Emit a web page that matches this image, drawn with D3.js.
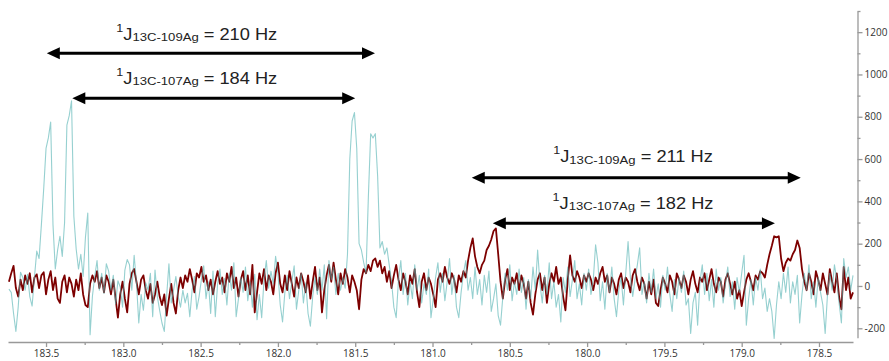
<!DOCTYPE html>
<html>
<head>
    <meta charset="utf-8">
    <style>
        body {
            margin: 0;
            background: #fff;
        }
        .axis text {
            font-family: "Open Sans", sans-serif;
            font-size: 10px;
            fill: #333;
        }
        .axis path, .axis line {
            stroke: #999;
            stroke-width: 1.3;
        }
        .jlabel {
            font-family: "Liberation Sans", Arial, sans-serif;
            fill: #222;
        }
    </style>
</head>
<body>
    <svg width="889" height="361"></svg>

    <script src="https://d3js.org/d3.v7.min.js"></script>
    <script>
        // spectrum grid: first point (ppm) and spacing
        const ppmStart = 183.74, ppmStep = 0.015;

        // light cyan spectrum
        const cyanTrace = [
            -15, -30, -130, -215, -100, 65, 40, -20, 55, -50,
            -95, 40, 165, 130, 290, 460, 650, 700, 775, 290,
            80, 170, 235, 140, 300, 760, 805, 875, 330, 175,
            80, 150, 45, 230, 345, -230, -50, 45, 120, -20,
            60, -35, 105, 70, -20, 50, -85, 25, -5, -100,
            75, 125, 100, -20, 145, 15, -175, -40, -115, 15,
            -20, 60, -145, 75, -50, -115, -175, -215, -50, 105,
            -80, -20, 45, -50, -100, -20, -80, -35, -145, -20,
            45, -110, -50, 30, 95, -60, 20, -130, 70, -145,
            10, 80, -40, 35, -90, 60, -20, 110, -145, -60,
            40, -30, 90, -70, 20, -100, 55, -160, -40, -150,
            30, 120, -10, 70, 10, 140, 60, -90, -170, -30,
            50, -60, 20, 95, -110, -20, 60, -80, 15, -130,
            -190, -50, 40, -40, 80, -20, 100, -155, 120, 30,
            90, -40, 60, -20, 40, -10, 150, 600, 780, 820,
            650, 200, 170, 110, 60, 420, 720, 700, 720, 520,
            180, 210, 150, 180, 100, 20, -100, -150, 30, 120,
            -40, 60, -90, 20, -60, 100, -20, 50, -80, 10,
            -40, 80, -150, -60, 40, 110, -30, 60, -70, 20,
            130, -40, 50, -100, -150, -30, 60, 120, -20, 40,
            -60, 90, -40, 30, -90, 50, -30, 70, -120, -60,
            10, -140, -185, -50, 60, -20, 100, -70, 20, -40,
            80, -30, 40, -110, 30, -60, 90, -20, 170, 10,
            -80, 50, -40, 110, -60, 20, -100, -40, -170, 40,
            -30, 90, -50, 30, 120, -60, 10, -90, 60, -20,
            80, -40, 30, 195, 110, -70, 20, -110, 60, -30,
            90, -60, -145, -20, 40, -90, 60, 210, 40, -50,
            30, 100, 180, -40, 20, -80, 60, -30, 80, -60,
            10, -100, 50, -20, 90, -40, -120, 30, -60, 40,
            -30, 70, -90, -60, -225, -80, -30, -185, 20, 100,
            -40, 60, -70, 30, -100, 80, -20, 40, -80, 10,
            90, -50, 20, -110, 40, -30, 60, 145, -185, -60,
            30, -90, 40, -20, 80, -60, -10, -120, -60, -120,
            -248, -90, 20, -60, 60, -30, 90, -80, 20, -40,
            50, -175, -40, 60, -20, 100, -60, 20, -100, 40,
            -30, -90, -225, -40, 60, -20, 100, 30, -80, -175,
            130, 40, 90, -20, 50
        ];

        // dark red spectrum
        const redTrace = [
            20, 60, 95, -10, -50, 30, -20, 50, 10, 60,
            -30, 40, 55, -10, 50, 65, -40, 30, 70, -20,
            40, -60, -80, 20, 50, -30, 40, 10, -50, 30,
            -20, 60, -40, -90, -100, 10, 50, 20, 70, -10,
            40, -30, 50, 20, -40, 30, -60, -150, -40, 20,
            -60, -125, 10, 60, 80, 20, -40, 30, 50, -20,
            -60, 10, -80, -40, 20, -50, -90, -40, -140, -60,
            10, -80, -130, -20, 40, -10, 50, 20, 80, 30,
            -30, 60, 40, 90, 20, 50, -20, 30, -40, 20,
            70, 10, 40, -30, 60, 20, 90, -10, 40, -50,
            30, 70, -20, 50, -40, 100, -125, -30, 60, 10,
            80, -20, 50, 20, -40, 60, 110, 10, -30, 50,
            -20, 70, 10, -50, 40, -10, 60, 20, -30, 50,
            -60, 20, 90, -20, 40, -125, -20, 50, 100, 20,
            110, 30, -40, 60, 10, 80, 40, -30, 50, 20,
            -20, -110, 30, 80, 60, 100, 70, 120, 130, 90,
            120, 60, 90, 20, 70, -10, 50, 100, 30, -20,
            60, 20, -40, 50, 10, 80, -30, -100, 20, 60,
            -20, 40, 10, -40, -100, 30, 60, 20, 90, 40,
            10, 60, 30, -30, 50, 20, 70, 40, 120, 180,
            225, 140, 90, 60, 100, 120, 170, 190, 220, 260,
            272, 150, 20, -60, 30, 80, -20, 40, 10, 60,
            -20, 50, 10, -60, 20, -80, -135, -40, 30, 60,
            -20, 40, -80, 10, 60, 20, 90, 10, 40, -50,
            -115, 30, 145, 50, 20, 70, 40, -10, 50, 20,
            60, 30, -20, 40, 10, 60, 90, 20, 50, -30,
            40, 10, -40, 30, 60, -10, 40, 20, -30, 50,
            80, 20, -20, 40, 10, -60, 20, -40, 30, -80,
            -95, -20, 40, 10, -30, 50, 20, -40, 60, 30,
            -10, 50, 20, -40, 30, 70, 10, -30, 40, 20,
            60, -20, 30, 80, 10, -30, 40, 20, -50, 30,
            60, 10, -40, 20, -60, -20, -95, -30, 30, 60,
            20, -20, 50, 30, 70, 60, 40, 100, 150, 190,
            235, 230, 235, 130, 70, 110, 130, 120, 150, 170,
            215, 180, 80, 20, -20, 60, 20, -40, 70, 30,
            -20, 60, 10, -40, 80, 20, -30, 60, -50, -110,
            90, -20, 40, -60, -30
        ];

        const xTicks = [183.5, 183.0, 182.5, 182.0, 181.5, 181.0, 180.5, 180.0, 179.5, 179.0, 178.5];
        const xMinor = [183.25, 182.75, 182.25, 181.75, 181.25, 180.75, 180.25, 179.75, 179.25, 178.75];
        const yTicks = [-200, 0, 200, 400, 600, 800, 1000, 1200];
        const yMinor = [-100, 100, 300, 500, 700, 900, 1100, 1300];

        // coupling annotations
        const jIsotopes = ["13C-109Ag", "13C-107Ag", "13C-109Ag", "13C-107Ag"];
        const jHz = [210, 184, 211, 182];
        const arrowFrom = [183.495, 183.33, 180.746, 180.61];
        const arrowTo = [181.372, 181.5, 178.618, 178.785];
        const arrowLevel = [1100, 887, 512, 296];
        const labelAt = [182.525, 182.525, 179.703, 179.703];
        const labelLevel = [1163, 955, 585, 364];

        const svg = d3.select("svg");

        const x = d3.scaleLinear().domain([183.746, 178.28]).range([8, 853]);
        const y = d3.scaleLinear().domain([-245, 1300]).range([337.8, 11]);

        // axes
        svg.append("g")
            .attr("class", "axis")
            .attr("transform", "translate(0,342)")
            .call(d3.axisBottom(x).tickValues(xTicks).tickFormat(d => d.toFixed(1))
                .tickSize(5).tickSizeOuter(0).tickPadding(3));
        svg.append("g")
            .attr("class", "axis")
            .attr("transform", "translate(0,342)")
            .call(d3.axisBottom(x).tickValues(xMinor).tickFormat("").tickSize(3).tickSizeOuter(0))
            .select(".domain").remove();

        svg.append("g")
            .attr("class", "axis")
            .attr("transform", "translate(857.5,0)")
            .call(d3.axisRight(y).tickValues(yTicks).tickFormat(d => String(d))
                .tickSize(5).tickSizeOuter(0).tickPadding(2));
        svg.append("g")
            .attr("class", "axis")
            .attr("transform", "translate(857.5,0)")
            .call(d3.axisRight(y).tickValues(yMinor).tickFormat("").tickSize(3).tickSizeOuter(0))
            .select(".domain").remove();

        // spectra
        const line = d3.line()
            .x((d, i) => x(ppmStart - i * ppmStep))
            .y(d => y(d));

        svg.append("path")
            .datum(redTrace)
            .attr("fill", "none")
            .attr("stroke", "#7d0000")
            .attr("stroke-width", 1.8)
            .attr("stroke-linejoin", "round")
            .attr("d", line);

        svg.append("path")
            .datum(cyanTrace)
            .attr("fill", "none")
            .attr("stroke", "#50b1b1")
            .attr("stroke-opacity", 0.6)
            .attr("stroke-width", 1.1)
            .attr("stroke-linejoin", "round")
            .attr("d", line);

        // double-headed arrows
        const head = 13, half = 6;
        const arrows = svg.append("g");
        arrowFrom.forEach((a, i) => {
            const x1 = x(a), x2 = x(arrowTo[i]), yy = y(arrowLevel[i]);
            arrows.append("line")
                .attr("x1", x1 + head - 1).attr("x2", x2 - head + 1)
                .attr("y1", yy).attr("y2", yy)
                .attr("stroke", "#000")
                .attr("stroke-width", 3);
            arrows.append("path")
                .attr("d", `M${x1},${yy}L${x1 + head},${yy - half}L${x1 + head},${yy + half}Z`)
                .attr("fill", "#000");
            arrows.append("path")
                .attr("d", `M${x2},${yy}L${x2 - head},${yy - half}L${x2 - head},${yy + half}Z`)
                .attr("fill", "#000");
        });

        // J labels
        jIsotopes.forEach((iso, i) => {
            const t = svg.append("g")
                .attr("transform", `translate(${x(labelAt[i])},${y(labelLevel[i])}) scale(1.14,1)`)
                .append("text")
                .attr("class", "jlabel")
                .attr("text-anchor", "middle");
            t.append("tspan").attr("font-size", 11).attr("dy", -8).text("1");
            t.append("tspan").attr("font-size", 16).attr("dy", 8).text("J");
            t.append("tspan").attr("font-size", 11.5).attr("dy", 1.5).text(iso);
            t.append("tspan").attr("font-size", 16).attr("dy", -1.5).text(` = ${jHz[i]} Hz`);
        });
    </script>
</body>
</html>
